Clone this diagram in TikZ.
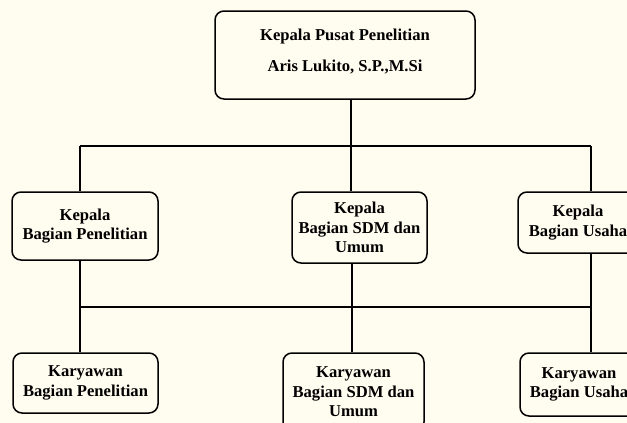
\documentclass[tikz,border=0pt]{standalone}
\usepackage{fontspec}
\setmainfont{Liberation Serif}
\usepackage{xcolor}
\usetikzlibrary{positioning}
\definecolor{bgcream}{RGB}{255,253,240}

\begin{document}
\begin{tikzpicture}[x=1pt, y=-1pt,
			unit/.style={rectangle, rounded corners=9pt, draw=black, line width=1.5pt, inner sep=0pt, align=center, font=\fontsize{16.6}{19.5}\selectfont\bfseries},
			link/.style={line width=1.5pt, draw=black}
			]
			\useasboundingbox (0,0) rectangle (627,423);
			\fill[bgcream] (0,0) rectangle (627,423);
			
			% junctions
			\coordinate (J1) at (80,146);
			\coordinate (J2) at (351,146);
			\coordinate (J3) at (591,146);
			\coordinate (K1) at (80,307);
			\coordinate (K2) at (352,307);
			\coordinate (K3) at (591,307);
			
			\node[unit, minimum width=260pt, minimum height=88pt] (top) at (345,55) {Kepala Pusat Penelitian\\[12pt] Aris Lukito, S.P.,M.Si\\[-10pt]\mbox{}};
			
			\node[unit, minimum width=146pt, minimum height=68pt] (KB1) at (85,226) {Kepala\\ Bagian Penelitian};
			\node[unit, minimum width=135pt, minimum height=71pt] (KB2) at (359.5,227.5) {Kepala\\ Bagian SDM dan\\ Umum};
			\node[unit, minimum width=120pt, minimum height=61pt] (KB3) at (578,222.5) {Kepala\\ Bagian Usaha};
			
			\node[unit, minimum width=145pt, minimum height=60pt] (KR1) at (85.5,383) {Karyawan\\ Bagian Penelitian};
			\node[unit, minimum width=141pt, minimum height=78pt] (KR2) at (353.5,392) {Karyawan\\ Bagian SDM dan\\ Umum};
			\node[unit, minimum width=118pt, minimum height=63pt] (KR3) at (579,384.5) {Karyawan\\ Bagian Usaha};
			
			\draw[link] (top.south -| J2) -- (J2);
			\draw[link] (J1) -- (J3);
			\draw[link] (J1) -- (KB1.north -| J1);
			\draw[link] (J2) -- (KB2.north -| J2);
			\draw[link] (J3) -- (KB3.north -| J3);
			
			\draw[link] (KB1.south -| K1) -- (K1);
			\draw[link] (KB2.south -| K2) -- (K2);
			\draw[link] (KB3.south -| K3) -- (K3);
			\draw[link] (K1) -- (K3);
			\draw[link] (K1) -- (KR1.north -| K1);
			\draw[link] (K2) -- (KR2.north -| K2);
			\draw[link] (K3) -- (KR3.north -| K3);
		\end{tikzpicture}
\end{document}
